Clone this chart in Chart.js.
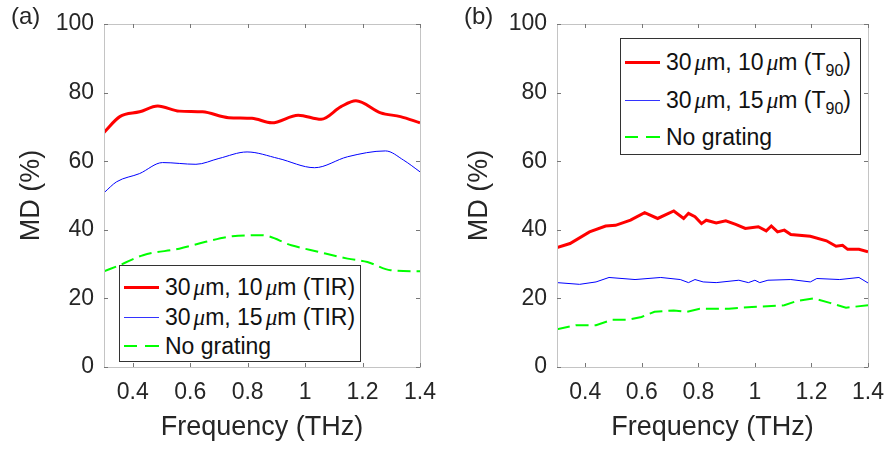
<!DOCTYPE html>
<html>
<head>
<meta charset="utf-8">
<script src="https://cdn.jsdelivr.net/npm/chart.js@4.4.1/dist/chart.umd.min.js"></script>
<style>
  body { margin: 0; background: #fff; }
  #wrap { position: relative; width: 896px; height: 451px; overflow: hidden; font-family: "Liberation Sans", Arial, sans-serif; color: #262626; }
  canvas { position: absolute; top: 0; }
  .panel { position: absolute; font-size: 24px; top: 2px; }
  .legend { position: absolute; background: #fff; border: 1px solid #333; box-sizing: border-box; font-size: 23px; color: #111; }
  .row { position: absolute; left: 0; display: flex; align-items: center; height: 30px; white-space: nowrap; }
  .sample { display: inline-block; width: 35px; margin-left: 4px; margin-right: 6px; }
  .dash { display: inline-block; width: 35px; height: 2px; margin-left: 4px; margin-right: 6px;
          background: linear-gradient(to right, #00ff00 0 13px, transparent 13px 21px, #00ff00 21px 35px); }
  .mu { font-family: "Liberation Serif", serif; font-style: italic; margin-left: 3px; }
  sub { font-size: 16px; position: relative; top: 6px; vertical-align: baseline; line-height: 0; }
</style>
</head>
<body>
<div id="wrap">
  <canvas id="chartA" width="448" height="451" style="left:0"></canvas>
  <canvas id="chartB" width="448" height="451" style="left:448px"></canvas>
  <div class="panel" style="left:11px">(a)</div>
  <div class="panel" style="left:464px">(b)</div>

  <div class="legend" style="left:119px; top:265px; width:242px; height:97px;">
    <div class="row" style="top:6px"><span class="sample" style="border-top:3px solid #ff0000"></span><span>30<span class="mu">μ</span>m, 10<span class="mu">μ</span>m (TIR)</span></div>
    <div class="row" style="top:36px"><span class="sample" style="border-top:1px solid #3333ff"></span><span>30<span class="mu">μ</span>m, 15<span class="mu">μ</span>m (TIR)</span></div>
    <div class="row" style="top:65px"><span class="dash"></span><span>No grating</span></div>
  </div>

  <div class="legend" style="left:620px; top:38px; width:241px; height:117px;">
    <div class="row" style="top:8px"><span class="sample" style="border-top:3px solid #ff0000"></span><span>30<span class="mu">μ</span>m, 10<span class="mu">μ</span>m (T<sub>90</sub>)</span></div>
    <div class="row" style="top:46px"><span class="sample" style="border-top:1px solid #3333ff"></span><span>30<span class="mu">μ</span>m, 15<span class="mu">μ</span>m (T<sub>90</sub>)</span></div>
    <div class="row" style="top:83px"><span class="dash"></span><span>No grating</span></div>
  </div>
</div>
<script>
// tick labels
const xTicks = [0.4, 0.6, 0.8, 1, 1.2, 1.4];
const yTicks = [0, 20, 40, 60, 80, 100];

// (a) TIR
const freqA10 = [0.3, 0.355, 0.424, 0.487, 0.562, 0.643, 0.734, 0.815, 0.884, 0.976, 1.056, 1.125, 1.177, 1.263, 1.332, 1.4];
const mdA10   = [68.4, 73.0, 74.4, 76.1, 74.6, 74.4, 72.7, 72.5, 71.2, 73.4, 72.2, 75.9, 77.6, 74.1, 73.0, 71.2];
const freqA15 = [0.3, 0.344, 0.424, 0.504, 0.62, 0.7, 0.798, 0.907, 1.033, 1.148, 1.28, 1.343, 1.4];
const mdA15   = [50.8, 54.0, 56.4, 59.6, 59.1, 60.8, 62.7, 60.8, 58.1, 61.3, 63.0, 60.3, 56.9];
const freqA0  = [0.3, 0.355, 0.436, 0.562, 0.654, 0.746, 0.85, 0.952, 1.045, 1.148, 1.217, 1.298, 1.4];
const mdA0    = [27.9, 29.7, 32.6, 34.5, 36.5, 38.1, 38.4, 35.5, 33.6, 31.6, 30.6, 28.2, 27.9];

// (b) T90
const freqB10 = [0.3, 0.346, 0.415, 0.472, 0.507, 0.56, 0.61, 0.656, 0.713, 0.748, 0.765, 0.788, 0.811, 0.828, 0.863, 0.897, 0.932, 0.966, 1.012, 1.04, 1.058, 1.08, 1.104, 1.127, 1.196, 1.253, 1.287, 1.31, 1.328, 1.368, 1.4];
const mdB10   = [34.8, 36.0, 39.4, 41.1, 41.3, 42.8, 45.0, 43.3, 45.5, 43.3, 44.8, 43.8, 41.8, 42.8, 42.0, 42.6, 41.6, 40.4, 40.9, 39.7, 41.1, 39.4, 39.9, 38.6, 38.1, 36.8, 35.2, 35.5, 34.3, 34.3, 33.6];
const freqB15 = [0.3, 0.38, 0.438, 0.484, 0.576, 0.667, 0.736, 0.765, 0.788, 0.817, 0.863, 0.943, 0.977, 1.0, 1.017, 1.046, 1.127, 1.196, 1.219, 1.3, 1.368, 1.4];
const mdB15   = [24.6, 24.1, 24.8, 26.1, 25.5, 26.1, 25.5, 24.6, 25.5, 24.8, 24.6, 25.3, 24.6, 25.3, 24.6, 25.3, 25.5, 24.8, 25.8, 25.5, 26.1, 24.5];
const freqB0  = [0.3, 0.369, 0.438, 0.495, 0.553, 0.599, 0.645, 0.713, 0.76, 0.805, 0.908, 0.989, 1.104, 1.15, 1.207, 1.265, 1.322, 1.4];
const mdB0    = [11.0, 12.2, 12.2, 13.8, 13.8, 14.6, 16.1, 16.5, 16.1, 17.0, 17.0, 17.5, 18.0, 19.3, 20.0, 18.7, 17.3, 18.0];

const pts = (xs, ys) => xs.map((x, i) => ({ x, y: ys[i] }));

// MATLAB style box with inward ticks
const boxPlugin = {
  id: 'box',
  afterDatasetsDraw(chart) {
    const { ctx, chartArea: a, scales } = chart;
    ctx.save();
    ctx.strokeStyle = '#c4c4c4';
    ctx.lineWidth = 1;
    ctx.strokeRect(Math.round(a.left) + 0.5, Math.round(a.top) + 0.5, Math.round(a.right - a.left), Math.round(a.bottom - a.top));
    ctx.strokeStyle = '#777';
    ctx.beginPath();
    xTicks.forEach(v => {
      const px = Math.round(scales.x.getPixelForValue(v)) + 0.5;
      ctx.moveTo(px, a.bottom); ctx.lineTo(px, a.bottom - 4);
      ctx.moveTo(px, a.top); ctx.lineTo(px, a.top + 4);
    });
    yTicks.forEach(v => {
      const py = Math.round(scales.y.getPixelForValue(v)) + 0.5;
      ctx.moveTo(a.left, py); ctx.lineTo(a.left + 4, py);
      ctx.moveTo(a.right, py); ctx.lineTo(a.right - 4, py);
    });
    ctx.stroke();
    ctx.restore();
  }
};

function makeChart(id, sets, yWidth, rightPad, smooth) {
  const ds = sets.map(s => ({
    data: pts(s.x, s.y),
    borderColor: s.color,
    borderWidth: s.width,
    borderDash: s.dash || [],
    pointRadius: 0,
    fill: false,
    cubicInterpolationMode: smooth ? 'monotone' : 'default',
    tension: 0
  }));
  return new Chart(document.getElementById(id), {
    type: 'line',
    data: { datasets: ds },
    plugins: [boxPlugin],
    options: {
      responsive: false,
      animation: false,
      layout: { padding: { top: 24, right: rightPad, left: 0, bottom: 0 } },
      plugins: { legend: { display: false }, tooltip: { enabled: false } },
      scales: {
        x: {
          type: 'linear', min: 0.3, max: 1.4,
          afterBuildTicks: s => { s.ticks = xTicks.map(v => ({ value: v })); },
          afterFit: s => { s.height = 84; },
          grid: { display: false, drawTicks: false },
          border: { display: false },
          ticks: { color: '#262626', padding: 12, font: { family: 'Liberation Sans', size: 23 },
                   callback: v => String(Math.round(v * 10) / 10) },
          title: { display: true, text: 'Frequency (THz)', color: '#262626',
                   font: { family: 'Liberation Sans', size: 27, lineHeight: 1 }, padding: { top: 0, bottom: 10 } }
        },
        y: {
          min: 0, max: 100,
          afterBuildTicks: s => { s.ticks = yTicks.map(v => ({ value: v })); },
          afterFit: s => { s.width = yWidth; },
          grid: { display: false, drawTicks: false },
          border: { display: false },
          ticks: { color: '#262626', padding: 10, font: { family: 'Liberation Sans', size: 23 } },
          title: { display: true, text: 'MD (%)', color: '#262626',
                   font: { family: 'Liberation Sans', size: 27, lineHeight: 1 }, padding: { top: 18, bottom: 0 } }
        }
      }
    }
  });
}

makeChart('chartA', [
  { x: freqA10, y: mdA10, color: '#ff0000', width: 3 },
  { x: freqA15, y: mdA15, color: '#0000ff', width: 1 },
  { x: freqA0, y: mdA0, color: '#00ff00', width: 2, dash: [13, 6] }
], 104, 26, true);

makeChart('chartB', [
  { x: freqB10, y: mdB10, color: '#ff0000', width: 3 },
  { x: freqB15, y: mdB15, color: '#0000ff', width: 1 },
  { x: freqB0, y: mdB0, color: '#00ff00', width: 2, dash: [13, 6] }
], 109, 20, false);
</script>
</body>
</html>
